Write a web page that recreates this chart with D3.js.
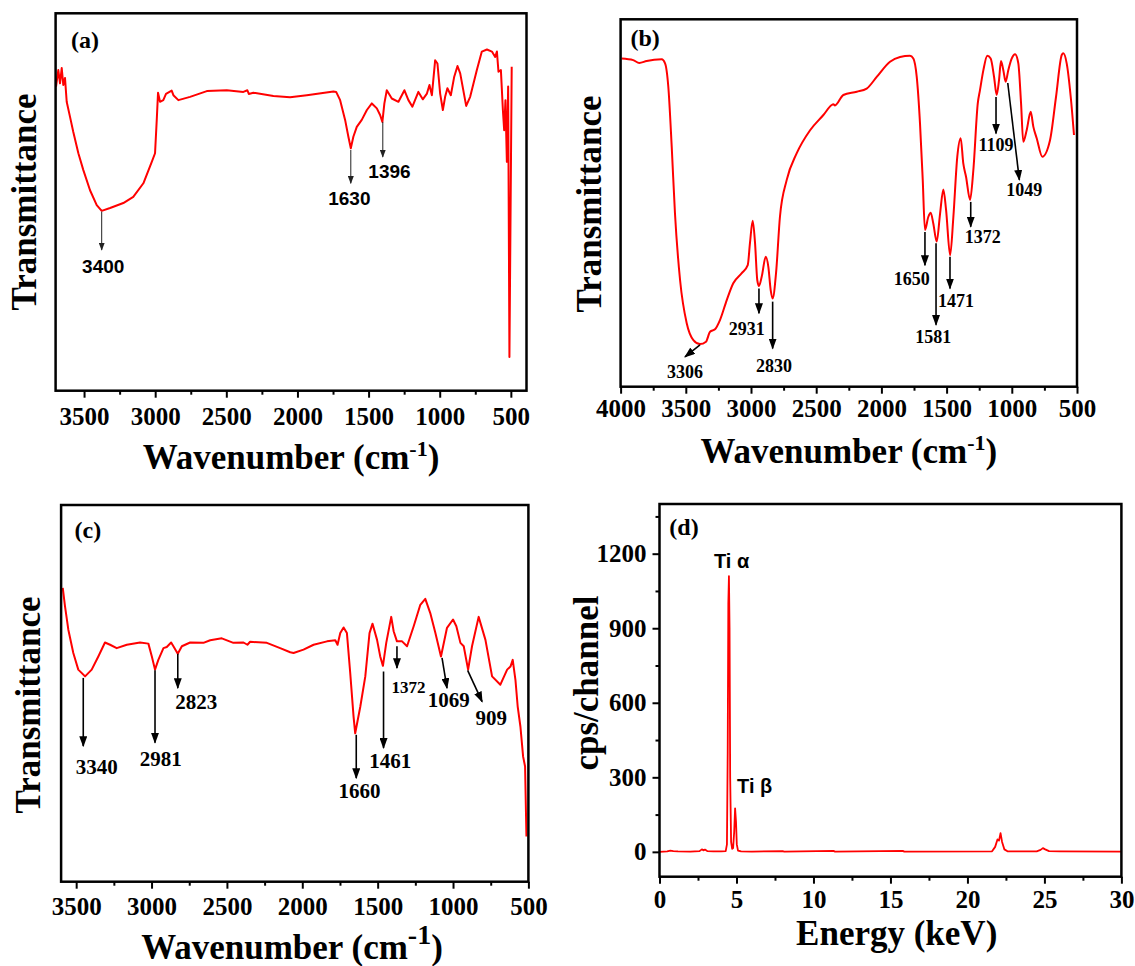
<!DOCTYPE html>
<html><head><meta charset="utf-8">
<script src="https://cdn.jsdelivr.net/npm/d3@7"></script>
<style>
body{margin:0;background:#fff;}
svg{display:block;background:#fff;}
</style></head><body>
<svg id="chart" width="1135" height="966"></svg>
<script>
// ---------------- DATA ----------------
// (a) FTIR spectrum: [wavenumber cm-1, transmittance a.u.]
const spectrumA = [[3697,82.5],[3681,86.5],[3669,83.3],[3657,87],[3646,82.9],[3634,84.6],[3622,78.8],[3599,75.2],[3576,71.5],[3540,66.3],[3505,62.2],[3458,57.3],[3411,53.7],[3376,52.3],[3317,53],[3224,54.2],[3154,55.7],[3083,59],[3024,64.2],[3001,66.3],[2989,74.4],[2980,81],[2966,78.8],[2943,79.2],[2924,80.7],[2884,81.5],[2872,80.4],[2837,79.2],[2755,80],[2637,81.4],[2497,81.6],[2380,81.2],[2352,81.6],[2342,80.7],[2310,81],[2169,80.2],[2052,79.9],[1934,80.4],[1747,81.3],[1728,81.2],[1700,79.2],[1665,74.4],[1642,70.3],[1625,67.5],[1607,70.3],[1583,72.7],[1548,74.4],[1512,76.8],[1477,78.4],[1442,77.2],[1419,75.6],[1403,73.9],[1389,78.4],[1372,81.6],[1337,79.6],[1290,78.8],[1248,81.6],[1220,79.2],[1192,77.6],[1150,81.2],[1119,79.4],[1090,80.8],[1072,82.9],[1055,80.4],[1032,88.9],[1016,88.1],[997,80.8],[978,76.8],[962,80],[946,82.1],[922,80.4],[898,84.9],[875,87.5],[856,85.7],[814,77.8],[786,80],[739,86.5],[704,91],[668,91.5],[633,91],[610,89.7],[598,91],[587,86.1],[570,86.5],[556,76.8],[547,71.9],[538,79.2],[528,64.2],[519,82.5],[510,16.8],[494,87.3]];
const peaksA = [
  {label:"3400", from:[3376,52.1], to:[3376,42.8], text:[3365,37.1]},
  {label:"1630", from:[1625,67.1], to:[1625,59.0], text:[1635,53.7]},
  {label:"1396", from:[1400,73.9], to:[1400,65.4], text:[1353,60.4]}
];
// (b) FTIR spectrum
const spectrumB = [[3992,90.7],[3903,90.3],[3857,89.6],[3800,90.1],[3685,90.5],[3659,89.5],[3634,83.6],[3608,68.7],[3583,52],[3544,35.4],[3493,24.6],[3442,20.4],[3391,19.4],[3345,20],[3314,22.5],[3276,23.1],[3238,25.4],[3186,30.4],[3136,34.6],[3071,37.1],[3025,39.1],[3008,44.6],[2987,50.2],[2969,44.6],[2952,35.4],[2939,33.9],[2918,36.2],[2887,41.2],[2867,38.7],[2849,32.9],[2834,30.8],[2808,37.1],[2778,51.2],[2726,60.4],[2650,67],[2547,72.8],[2445,76.6],[2381,79.1],[2369,79.3],[2356,79],[2292,81.6],[2189,82.4],[2113,83.2],[2036,86.1],[1934,89.9],[1857,91.1],[1781,91.4],[1755,90.7],[1729,86.1],[1704,74.5],[1683,60.4],[1666,47.9],[1640,51.2],[1622,52.2],[1602,49.5],[1576,45],[1550,52],[1525,58],[1504,52.9],[1473,41.6],[1448,51.2],[1418,66.2],[1392,70.8],[1372,64.5],[1351,61.2],[1320,55.4],[1295,62.8],[1261,79.5],[1244,82.8],[1218,87.8],[1188,91.4],[1162,90.7],[1136,86.1],[1116,81.6],[1098,85.3],[1083,90.1],[1065,87.8],[1047,84.9],[1027,87.8],[1001,90.7],[975,91.8],[950,89.5],[929,79.5],[912,69.9],[886,72.8],[855,77.4],[835,73.7],[809,70.8],[766,66.2],[707,70.3],[661,81.1],[617,91.6],[605,92],[579,89.5],[548,81.1],[523,71.6]];
const peaksB = [
  {label:"3306", from:[3391,19.2], to:[3506,16.2], text:[3506,10.9]},
  {label:"2931", from:[2939,33.3], to:[2939,27.1], text:[3033,21.7]},
  {label:"2830", from:[2834,30.0], to:[2834,18.3], text:[2824,12.5]},
  {label:"1650", from:[1666,47.4], to:[1666,39.1], text:[1768,34.1]},
  {label:"1581", from:[1581,44.6], to:[1581,24.2], text:[1602,19.6]},
  {label:"1471", from:[1474,41.2], to:[1474,33.3], text:[1428,28.6]},
  {label:"1372", from:[1315,54.9], to:[1315,48.7], text:[1223,44.7]},
  {label:"1109", from:[1121,81.1], to:[1121,72.0], text:[1121,67.7]},
  {label:"1049", from:[1031,84.6], to:[942,60.4], text:[904,56.4]}
];
// (c) FTIR spectrum
const spectrumC = [[3589,78],[3574,73.1],[3552,66.9],[3519,60.7],[3486,56.3],[3441,54.5],[3397,56.3],[3353,59.8],[3309,63.5],[3275,62.9],[3231,62],[3164,62.9],[3076,63.5],[3021,63.2],[2998,59.8],[2977,56.3],[2955,58.9],[2921,62],[2899,62.3],[2870,63.5],[2855,62.5],[2826,60.5],[2799,62.5],[2744,63.5],[2656,63.4],[2611,64.1],[2534,64.6],[2457,63.4],[2390,63.5],[2364,62.9],[2346,63.7],[2235,63.4],[2147,62],[2080,60.9],[2058,60.7],[1992,61.6],[1925,62.9],[1836,63.8],[1781,64.1],[1766,62.9],[1748,66],[1726,67.5],[1704,66],[1682,55.4],[1660,43.9],[1649,39.4],[1615,46.5],[1582,54.5],[1554,66],[1534,68.5],[1504,64.2],[1483,59.8],[1465,57.3],[1443,63.4],[1410,70.3],[1394,66.5],[1372,63.8],[1338,63.8],[1305,62.5],[1261,67.8],[1217,73.5],[1184,75.1],[1151,71.3],[1117,66],[1080,59.8],[1040,67.4],[1000,69.6],[978,67.8],[951,63.4],[929,62.5],[900,56.3],[874,62.5],[830,70.3],[785,64.2],[741,54.5],[686,52.3],[641,56.3],[619,57.1],[604,58.9],[586,53.6],[571,46.5],[553,41.2],[535,33.2],[522,30.6],[513,12]];
const peaksC = [
  {label:"3340", from:[3453,54.1], to:[3453,36.0], text:[3364,28.6]},
  {label:"2981", from:[2977,56.1], to:[2977,36.9], text:[2939,30.6]},
  {label:"2823", from:[2826,60.5], to:[2826,51.4], text:[2704,45.8]},
  {label:"1660", from:[1642,39.0], to:[1642,27.5], text:[1620,22.2]},
  {label:"1461", from:[1461,55.8], to:[1461,35.5], text:[1416,30.1]},
  {label:"1372", from:[1372,62.5], to:[1372,56.7], text:[1295,50.1]},
  {label:"1069", from:[1073,59.4], to:[1040,51.4], text:[1029,46.4]},
  {label:"909",  from:[903,56.1],  to:[807,47.8],  text:[747,41.7]}
];
// (d) EDS spectrum: [energy keV, cps/channel]
const spectrumD = [[0,0],[0.5,2],[0.7,5],[0.9,3],[1.2,2],[2.0,1],[2.6,3],[2.75,10],[2.85,6],[2.95,9],[3.1,3],[3.5,2],[4.0,2],[4.3,3],[4.38,30],[4.43,400],[4.47,1000],[4.51,1110],[4.55,900],[4.59,300],[4.65,40],[4.72,12],[4.78,15],[4.85,80],[4.91,175],[4.97,120],[5.02,30],[5.1,5],[5.3,2],[6,1],[8,3],[8.1,1],[11.3,4],[11.4,1],[15.8,4],[15.9,1],[21.6,2],[21.8,20],[21.95,50],[22.05,45],[22.15,75],[22.25,40],[22.4,10],[22.6,2],[24.5,2],[24.75,8],[24.9,15],[25.05,10],[25.3,3],[26,2],[30,1]];
const peakLabelsD = [{label:"Ti α", at:[4.68,1143]},{label:"Ti β", at:[6.18,235]}];
// tick values
const irMajorTicks = [4000,3500,3000,2500,2000,1500,1000,500];
const irMinorTicks = [3750,3250,2750,2250,1750,1250,750];
const edsXMajor = [0,5,10,15,20,25,30];
const edsXMinor = [2.5,7.5,12.5,17.5,22.5,27.5];
const edsYMajor = [0,300,600,900,1200];
const edsYMinor = [150,450,750,1050,1350];
const smallLabelsC = ["1372"];

// ---------------- DRAW ----------------
const SERIF = '"Liberation Serif","Times New Roman",serif';
const SANS = '"Liberation Sans",Arial,sans-serif';
const svg = d3.select('#chart');
const defs = svg.append('defs');
function marker(id, len, wid, color){
  defs.append('marker').attr('id',id).attr('viewBox','0 0 10 10').attr('refX',9).attr('refY',5)
    .attr('markerUnits','userSpaceOnUse').attr('markerWidth',len).attr('markerHeight',wid)
    .attr('preserveAspectRatio','none').attr('orient','auto')
    .append('path').attr('d','M0,0L10,5L0,10Z').attr('fill',color);
}
marker('headThin', 8, 6, '#222');
marker('headBold', 11, 8, '#000');

function styleText(sel, family, size){
  sel.attr('font-family', family).attr('font-weight','bold').attr('font-size', size).attr('fill','#000');
}

function panel(cfg){
  const g = svg.append('g');
  const b = cfg.box;
  const x = d3.scaleLinear().domain(cfg.xDomain).range([b.x0, b.x1]);
  const y = d3.scaleLinear().domain(cfg.yDomain).range([b.y1, b.y0]);
  const clipId = 'clip' + cfg.id;
  defs.append('clipPath').attr('id', clipId).append('rect')
    .attr('x', b.x0).attr('y', b.y0).attr('width', b.x1-b.x0).attr('height', b.y1-b.y0);

  // x axis
  const lo = Math.min(...cfg.xDomain), hi = Math.max(...cfg.xDomain);
  const majors = cfg.xMajor.filter(v => v >= lo && v <= hi);
  const minors = cfg.xMinor.filter(v => v >= lo && v <= hi);
  const pad = cfg.tickBase - b.y1 - 7 - 0.71*25;
  g.append('g').attr('transform',`translate(0,${b.y1})`)
    .call(d3.axisBottom(x).tickValues(minors).tickSize(4).tickFormat(''))
    .call(s => { s.select('.domain').remove(); s.selectAll('line').attr('stroke-width',2); });
  g.append('g').attr('transform',`translate(0,${b.y1})`)
    .call(d3.axisBottom(x).tickValues(majors).tickSize(7).tickPadding(pad).tickFormat(d3.format('d')))
    .call(s => { s.select('.domain').remove(); s.selectAll('line').attr('stroke-width',2);
                 s.selectAll('text').call(t => styleText(t, SERIF, 25)); s.attr('font-size',null).attr('font-family',null); });

  if (cfg.yMajor){
    g.append('g').attr('transform',`translate(${b.x0},0)`)
      .call(d3.axisLeft(y).tickValues(cfg.yMinor).tickSize(4).tickFormat(''))
      .call(s => { s.select('.domain').remove(); s.selectAll('line').attr('stroke-width',2); });
    g.append('g').attr('transform',`translate(${b.x0},0)`)
      .call(d3.axisLeft(y).tickValues(cfg.yMajor).tickSize(7).tickPadding(6).tickFormat(d3.format('d')))
      .call(s => { s.select('.domain').remove(); s.selectAll('line').attr('stroke-width',2);
                   s.selectAll('text').call(t => styleText(t, SERIF, 25)); s.attr('font-size',null).attr('font-family',null); });
  }

  // curve
  const line = d3.line().x(d => x(d[0])).y(d => y(d[1])).curve(cfg.curve || d3.curveMonotoneX);
  g.append('path').datum(cfg.data).attr('clip-path',`url(#${clipId})`)
    .attr('d', line).attr('fill','none').attr('stroke','#ff0000').attr('stroke-width', cfg.lineWidth || 2)
    .attr('stroke-linejoin','round');

  // frame
  g.append('rect').attr('x', b.x0).attr('y', b.y0).attr('width', b.x1-b.x0).attr('height', b.y1-b.y0)
    .attr('fill','none').attr('stroke','#000').attr('stroke-width',2.5);

  // annotations
  if (cfg.peaks){
    cfg.peaks.forEach(p => {
      g.append('line').attr('x1', x(p.from[0])).attr('y1', y(p.from[1]))
        .attr('x2', x(p.to[0])).attr('y2', y(p.to[1]))
        .attr('stroke', cfg.arrowColor).attr('stroke-width', cfg.arrowWidth)
        .attr('marker-end', `url(#${cfg.marker})`);
      const fs = (cfg.smallLabels && cfg.smallLabels.includes(p.label)) ? cfg.smallSize : cfg.labelSize;
      g.append('text').attr('x', x(p.text[0])).attr('y', y(p.text[1])).attr('text-anchor','middle')
        .text(p.label).call(t => styleText(t, cfg.labelFont, fs));
    });
  }
  if (cfg.textLabels){
    cfg.textLabels.forEach(p => {
      g.append('text').attr('x', x(p.at[0])).attr('y', y(p.at[1])).attr('text-anchor','middle')
        .text(p.label).call(t => styleText(t, cfg.labelFont, cfg.labelSize));
    });
  }

  // panel letter
  g.append('text').attr('x', cfg.letter[1]).attr('y', cfg.letter[2]).text(cfg.letter[0])
    .call(t => styleText(t, SERIF, 24));

  // x title
  const xt = g.append('text').attr('x', cfg.xTitle.x).attr('y', cfg.xTitle.y).attr('text-anchor','middle')
    .call(t => styleText(t, SERIF, 35));
  if (cfg.xTitle.sup){
    xt.append('tspan').text(cfg.xTitle.text);
    xt.append('tspan').attr('dy', -cfg.xTitle.supShift).attr('font-size', cfg.xTitle.supSize).text(cfg.xTitle.sup);
    xt.append('tspan').attr('dy', cfg.xTitle.supShift).text(')');
  } else {
    xt.text(cfg.xTitle.text);
  }
  // y title
  g.append('text').attr('transform', `translate(${cfg.yTitle.x},${cfg.yTitle.y}) rotate(-90)`)
    .attr('text-anchor','middle').text(cfg.yTitle.text).call(t => styleText(t, SERIF, 35));
}

panel({
  id:'a', box:{x0:55.6, x1:526.5, y0:13.3, y1:390.7},
  xDomain:[3700,390], yDomain:[8.6,100.3], data:spectrumA, curve:d3.curveLinear,
  xMajor:irMajorTicks, xMinor:irMinorTicks, tickBase:425,
  peaks:peaksA, marker:'headThin', arrowColor:'#222', arrowWidth:1, labelFont:SANS, labelSize:19,
  letter:['(a)',71,48],
  xTitle:{x:291, y:469, text:'Wavenumber (cm', sup:'-1', supSize:22, supShift:13},
  yTitle:{x:36, y:202, text:'Transmittance'}
});
panel({
  id:'b', box:{x0:620.6, x1:1077, y0:19.3, y1:386.7},
  xDomain:[4000,500], yDomain:[8.76,100.5], data:spectrumB,
  xMajor:irMajorTicks, xMinor:irMinorTicks, tickBase:417.5,
  peaks:peaksB, marker:'headBold', arrowColor:'#000', arrowWidth:1.6, labelFont:SERIF, labelSize:18,
  letter:['(b)',630.5,46],
  xTitle:{x:848.8, y:462.5, text:'Wavenumber (cm', sup:'-1', supSize:22, supShift:13},
  yTitle:{x:601.4, y:204, text:'Transmittance'}
});
panel({
  id:'c', box:{x0:61.1, x1:528.4, y0:505, y1:881.7},
  xDomain:[3600,500], yDomain:[0,100], data:spectrumC, curve:d3.curveLinear,
  xMajor:irMajorTicks, xMinor:irMinorTicks, tickBase:915.5,
  peaks:peaksC, marker:'headBold', arrowColor:'#000', arrowWidth:1.6, labelFont:SERIF, labelSize:21,
  smallLabels:smallLabelsC, smallSize:17,
  letter:['(c)',74.5,537.5],
  xTitle:{x:292, y:959, text:'Wavenumber (cm', sup:'-1', supSize:28, supShift:15},
  yTitle:{x:40, y:705, text:'Transmittance'}
});
panel({
  id:'d', box:{x0:659.5, x1:1121.4, y0:504, y1:876.7},
  xDomain:[0,30], yDomain:[-100,1400], data:spectrumD, curve:d3.curveLinear, lineWidth:1.8,
  xMajor:edsXMajor, xMinor:edsXMinor, tickBase:908,
  yMajor:edsYMajor, yMinor:edsYMinor,
  textLabels:peakLabelsD, labelFont:SANS, labelSize:20,
  letter:['(d)',669.3,535],
  xTitle:{x:896.7, y:945, text:'Energy (keV)'},
  yTitle:{x:598, y:683, text:'cps/channel'}
});
</script>
</body></html>
